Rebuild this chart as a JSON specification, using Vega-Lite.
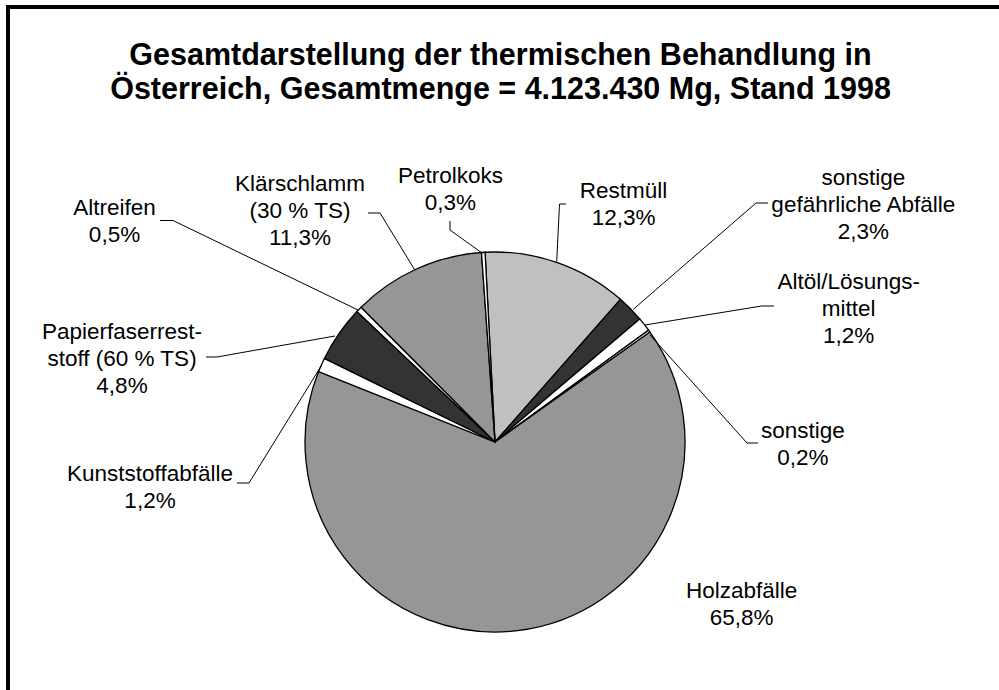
{
  "$schema": "https://vega.github.io/schema/vega-lite/v6.json",
  "width": 991,
  "height": 683,
  "autosize": {"type": "none"},
  "padding": {"left": 8, "top": 7, "right": 0, "bottom": 0},
  "background": "white",
  "title": {
    "text": ["Gesamtdarstellung der thermischen Behandlung in", "Österreich, Gesamtmenge = 4.123.430 Mg, Stand 1998"],
    "orient": "top",
    "anchor": "middle",
    "frame": "group",
    "offset": -122,
    "baseline": "alphabetic",
    "lineHeight": 34,
    "font": "Liberation Sans",
    "fontSize": 30.5,
    "fontWeight": "bold",
    "color": "black",
    "dx": -3
  },
  "data": {
    "values": [
      {"nr": 1, "Fraktion": "Restmüll", "Beschriftung": "Restmüll", "anteil": 0.123},
      {"nr": 2, "Fraktion": "sonstige gefährliche Abfälle", "Beschriftung": "sonstige\ngefährliche Abfälle", "anteil": 0.023},
      {"nr": 3, "Fraktion": "Altöl/Lösungsmittel", "Beschriftung": "Altöl/Lösungs-\nmittel", "anteil": 0.012},
      {"nr": 4, "Fraktion": "sonstige", "Beschriftung": "sonstige", "anteil": 0.002},
      {"nr": 5, "Fraktion": "Holzabfälle", "Beschriftung": "Holzabfälle", "anteil": 0.658},
      {"nr": 6, "Fraktion": "Kunststoffabfälle", "Beschriftung": "Kunststoffabfälle", "anteil": 0.012},
      {"nr": 7, "Fraktion": "Papierfaserreststoff (60 % TS)", "Beschriftung": "Papierfaserrest-\nstoff (60 % TS)", "anteil": 0.048},
      {"nr": 8, "Fraktion": "Altreifen", "Beschriftung": "Altreifen", "anteil": 0.005},
      {"nr": 9, "Fraktion": "Klärschlamm (30 % TS)", "Beschriftung": "Klärschlamm\n(30 % TS)", "anteil": 0.113},
      {"nr": 10, "Fraktion": "Petrolkoks", "Beschriftung": "Petrolkoks", "anteil": 0.003}
    ]
  },
  "layer": [
    {
      "mark": {"type": "arc", "radius": 190, "stroke": "black", "strokeWidth": 1.3},
      "encoding": {
        "x": {"datum": 0, "type": "quantitative", "scale": {"domain": [-256.32, 265.26], "nice": false, "zero": false}, "axis": null},
        "y": {"datum": 0, "type": "quantitative", "scale": {"domain": [-130.53, 228.95], "nice": false, "zero": false}, "axis": null},
        "theta": {"field": "anteil", "type": "quantitative", "stack": true, "scale": {"range": [-0.0524, 6.2308]}},
        "order": {"field": "nr", "type": "quantitative"},
        "color": {
          "field": "Fraktion",
          "type": "nominal",
          "legend": null,
          "scale": {
            "domain": ["Restmüll", "sonstige gefährliche Abfälle", "Altöl/Lösungsmittel", "sonstige", "Holzabfälle", "Kunststoffabfälle", "Papierfaserreststoff (60 % TS)", "Altreifen", "Klärschlamm (30 % TS)", "Petrolkoks"],
            "range": ["#c0c0c0", "#333333", "#ffffff", "#ffffff", "#969696", "#ffffff", "#333333", "#ffffff", "#969696", "#ffffff"]
          }
        }
      }
    },
    {
      "transform": [{"filter": {"field": "Fraktion", "equal": "Restmüll"}}],
      "encoding": {"x": {"datum": 67.68}, "y": {"datum": 125.68}},
      "layer": [
        {"mark": {"type": "text"}, "encoding": {"text": {"field": "Beschriftung"}}},
        {"mark": {"type": "text", "dy": 27}, "encoding": {"text": {"field": "anteil", "type": "quantitative", "format": ".1%"}}},
        {"mark": "rule", "encoding": {"x": {"datum": 37.37}, "y": {"datum": 125.26}, "x2": {"datum": 33.95}, "y2": {"datum": 125.26}}},
        {"mark": "rule", "encoding": {"x": {"datum": 33.95}, "y": {"datum": 125.26}, "x2": {"datum": 32.47}, "y2": {"datum": 94.89}}}
      ]
    },
    {
      "transform": [{"filter": {"field": "Fraktion", "equal": "sonstige gefährliche Abfälle"}}],
      "encoding": {"x": {"datum": 193.84}, "y": {"datum": 132.79}},
      "layer": [
        {"mark": {"type": "text"}, "encoding": {"text": {"field": "Beschriftung"}}},
        {"mark": {"type": "text", "dy": 54}, "encoding": {"text": {"field": "anteil", "type": "quantitative", "format": ".1%"}}},
        {"mark": "rule", "encoding": {"x": {"datum": 143.68}, "y": {"datum": 125.79}, "x2": {"datum": 137.37}, "y2": {"datum": 125.79}}},
        {"mark": "rule", "encoding": {"x": {"datum": 137.37}, "y": {"datum": 125.79}, "x2": {"datum": 72.79}, "y2": {"datum": 69.84}}}
      ]
    },
    {
      "transform": [{"filter": {"field": "Fraktion", "equal": "Altöl/Lösungsmittel"}}],
      "encoding": {"x": {"datum": 186.16}, "y": {"datum": 77.79}},
      "layer": [
        {"mark": {"type": "text"}, "encoding": {"text": {"field": "Beschriftung"}}},
        {"mark": {"type": "text", "dy": 54}, "encoding": {"text": {"field": "anteil", "type": "quantitative", "format": ".1%"}}},
        {"mark": "rule", "encoding": {"x": {"datum": 146.84}, "y": {"datum": 71.58}, "x2": {"datum": 140.37}, "y2": {"datum": 71.58}}},
        {"mark": "rule", "encoding": {"x": {"datum": 140.37}, "y": {"datum": 71.58}, "x2": {"datum": 78.95}, "y2": {"datum": 61.58}}}
      ]
    },
    {
      "transform": [{"filter": {"field": "Fraktion", "equal": "sonstige"}}],
      "encoding": {"x": {"datum": 162.0}, "y": {"datum": -0.37}},
      "layer": [
        {"mark": {"type": "text"}, "encoding": {"text": {"field": "Beschriftung"}}},
        {"mark": {"type": "text", "dy": 27}, "encoding": {"text": {"field": "anteil", "type": "quantitative", "format": ".1%"}}},
        {"mark": "rule", "encoding": {"x": {"datum": 138.42}, "y": {"datum": -0.53}, "x2": {"datum": 132.63}, "y2": {"datum": -0.53}}},
        {"mark": "rule", "encoding": {"x": {"datum": 132.63}, "y": {"datum": -0.53}, "x2": {"datum": 81.58}, "y2": {"datum": 56.32}}}
      ]
    },
    {
      "transform": [{"filter": {"field": "Fraktion", "equal": "Holzabfälle"}}],
      "encoding": {"x": {"datum": 129.84}, "y": {"datum": -84.58}},
      "layer": [
        {"mark": {"type": "text"}, "encoding": {"text": {"field": "Beschriftung"}}},
        {"mark": {"type": "text", "dy": 27}, "encoding": {"text": {"field": "anteil", "type": "quantitative", "format": ".1%"}}}
      ]
    },
    {
      "transform": [{"filter": {"field": "Fraktion", "equal": "Kunststoffabfälle"}}],
      "encoding": {"x": {"datum": -181.58}, "y": {"datum": -23.0}},
      "layer": [
        {"mark": {"type": "text"}, "encoding": {"text": {"field": "Beschriftung"}}},
        {"mark": {"type": "text", "dy": 27}, "encoding": {"text": {"field": "anteil", "type": "quantitative", "format": ".1%"}}},
        {"mark": "rule", "encoding": {"x": {"datum": -135.79}, "y": {"datum": -21.58}, "x2": {"datum": -129.47}, "y2": {"datum": -21.58}}},
        {"mark": "rule", "encoding": {"x": {"datum": -129.47}, "y": {"datum": -21.58}, "x2": {"datum": -91.32}, "y2": {"datum": 40.26}}}
      ]
    },
    {
      "transform": [{"filter": {"field": "Fraktion", "equal": "Papierfaserreststoff (60 % TS)"}}],
      "encoding": {"x": {"datum": -196.32}, "y": {"datum": 51.74}},
      "layer": [
        {"mark": {"type": "text"}, "encoding": {"text": {"field": "Beschriftung"}}},
        {"mark": {"type": "text", "dy": 54}, "encoding": {"text": {"field": "anteil", "type": "quantitative", "format": ".1%"}}},
        {"mark": "rule", "encoding": {"x": {"datum": -152.11}, "y": {"datum": 44.74}, "x2": {"datum": -146.32}, "y2": {"datum": 44.74}}},
        {"mark": "rule", "encoding": {"x": {"datum": -146.32}, "y": {"datum": 44.74}, "x2": {"datum": -84.21}, "y2": {"datum": 55.79}}}
      ]
    },
    {
      "transform": [{"filter": {"field": "Fraktion", "equal": "Altreifen"}}],
      "encoding": {"x": {"datum": -200.26}, "y": {"datum": 117.0}},
      "layer": [
        {"mark": {"type": "text"}, "encoding": {"text": {"field": "Beschriftung"}}},
        {"mark": {"type": "text", "dy": 27}, "encoding": {"text": {"field": "anteil", "type": "quantitative", "format": ".1%"}}},
        {"mark": "rule", "encoding": {"x": {"datum": -176.32}, "y": {"datum": 116.58}, "x2": {"datum": -169.47}, "y2": {"datum": 116.58}}},
        {"mark": "rule", "encoding": {"x": {"datum": -169.47}, "y": {"datum": 116.58}, "x2": {"datum": -72.11}, "y2": {"datum": 69.47}}}
      ]
    },
    {
      "transform": [{"filter": {"field": "Fraktion", "equal": "Klärschlamm (30 % TS)"}}],
      "encoding": {"x": {"datum": -102.63}, "y": {"datum": 129.5}},
      "layer": [
        {"mark": {"type": "text"}, "encoding": {"text": {"field": "Beschriftung"}}},
        {"mark": {"type": "text", "dy": 54}, "encoding": {"text": {"field": "anteil", "type": "quantitative", "format": ".1%"}}},
        {"mark": "rule", "encoding": {"x": {"datum": -66.84}, "y": {"datum": 120.53}, "x2": {"datum": -60.53}, "y2": {"datum": 120.53}}},
        {"mark": "rule", "encoding": {"x": {"datum": -60.53}, "y": {"datum": 120.53}, "x2": {"datum": -42.26}, "y2": {"datum": 90.63}}}
      ]
    },
    {
      "transform": [{"filter": {"field": "Fraktion", "equal": "Petrolkoks"}}],
      "encoding": {"x": {"datum": -23.47}, "y": {"datum": 133.5}},
      "layer": [
        {"mark": {"type": "text"}, "encoding": {"text": {"field": "Beschriftung"}}},
        {"mark": {"type": "text", "dy": 27}, "encoding": {"text": {"field": "anteil", "type": "quantitative", "format": ".1%"}}},
        {"mark": "rule", "encoding": {"x": {"datum": -23.68}, "y": {"datum": 116.32}, "x2": {"datum": -23.68}, "y2": {"datum": 111.58}}},
        {"mark": "rule", "encoding": {"x": {"datum": -23.68}, "y": {"datum": 111.58}, "x2": {"datum": -6.84}, "y2": {"datum": 99.47}}}
      ]
    }
  ],
  "config": {
    "locale": {"number": {"decimal": ",", "thousands": ".", "grouping": [3], "currency": ["", " €"]}},
    "view": {"stroke": "black", "strokeWidth": 4, "strokeCap": "square", "strokeDash": [991, 1674, 683]},
    "axis": {"disable": true},
    "text": {"font": "Liberation Sans", "fontSize": 22.5, "align": "center", "baseline": "bottom", "lineHeight": 27, "lineBreak": "\n", "color": "black"},
    "rule": {"color": "black", "strokeWidth": 1}
  }
}
